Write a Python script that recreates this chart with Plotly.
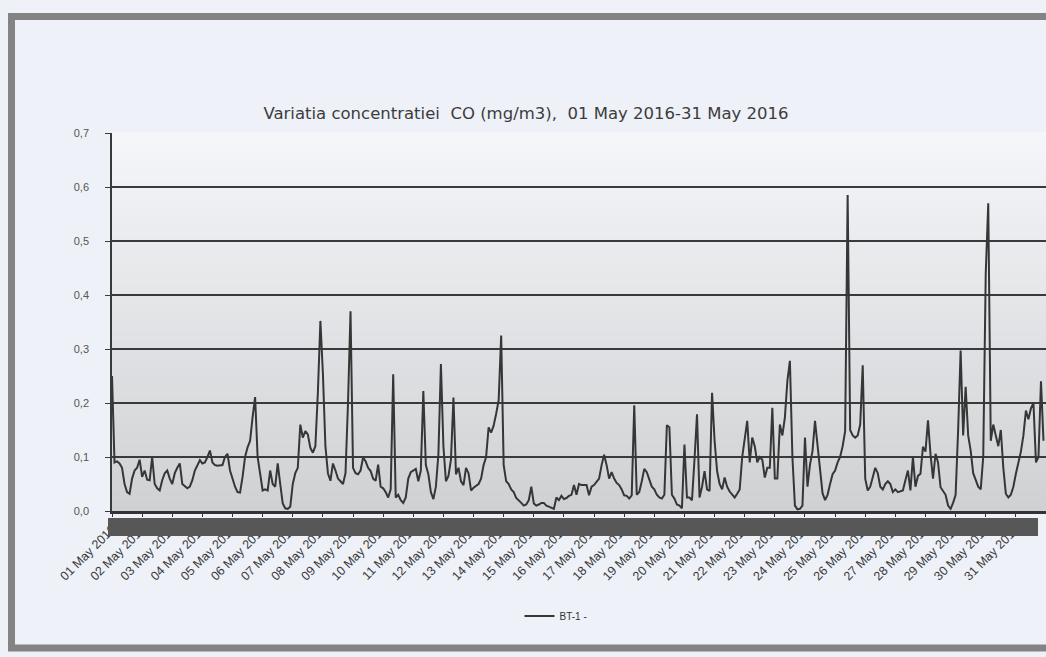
import pandas as pd
import plotly.graph_objects as go

# CO concentration (mg/m3), BT-1, 2-hourly readings (00,02,...,22h) per day, May 2016
co_may01 = [0.25, 0.09, 0.092, 0.088, 0.08, 0.05, 0.035, 0.032, 0.06, 0.075, 0.08, 0.095]
co_may02 = [0.063, 0.075, 0.058, 0.057, 0.1, 0.05, 0.042, 0.038, 0.057, 0.07, 0.075, 0.06]
co_may03 = [0.05, 0.07, 0.08, 0.088, 0.05, 0.045, 0.042, 0.045, 0.057, 0.075, 0.085, 0.094]
co_may04 = [0.088, 0.09, 0.1, 0.112, 0.09, 0.085, 0.084, 0.084, 0.085, 0.1, 0.106, 0.075]
co_may05 = [0.06, 0.045, 0.035, 0.034, 0.063, 0.1, 0.118, 0.13, 0.174, 0.211, 0.1, 0.07]
co_may06 = [0.038, 0.04, 0.038, 0.075, 0.05, 0.045, 0.088, 0.05, 0.014, 0.005, 0.004, 0.008]
co_may07 = [0.05, 0.07, 0.08, 0.16, 0.136, 0.148, 0.142, 0.117, 0.108, 0.12, 0.22, 0.352]
co_may08 = [0.255, 0.12, 0.07, 0.056, 0.088, 0.075, 0.06, 0.055, 0.05, 0.07, 0.2, 0.37]
co_may09 = [0.08, 0.07, 0.068, 0.075, 0.099, 0.092, 0.08, 0.074, 0.06, 0.056, 0.086, 0.045]
co_may10 = [0.042, 0.035, 0.025, 0.04, 0.253, 0.025, 0.03, 0.02, 0.015, 0.025, 0.06, 0.072]
co_may11 = [0.075, 0.078, 0.055, 0.075, 0.222, 0.085, 0.068, 0.035, 0.022, 0.045, 0.105, 0.272]
co_may12 = [0.12, 0.055, 0.065, 0.095, 0.21, 0.068, 0.08, 0.055, 0.048, 0.08, 0.07, 0.038]
co_may13 = [0.043, 0.046, 0.05, 0.06, 0.085, 0.1, 0.155, 0.145, 0.158, 0.18, 0.205, 0.325]
co_may14 = [0.085, 0.055, 0.05, 0.04, 0.035, 0.024, 0.02, 0.015, 0.01, 0.012, 0.02, 0.045]
co_may15 = [0.014, 0.01, 0.012, 0.015, 0.015, 0.01, 0.008, 0.006, 0.004, 0.025, 0.02, 0.028]
co_may16 = [0.022, 0.024, 0.028, 0.03, 0.048, 0.03, 0.05, 0.048, 0.048, 0.048, 0.029, 0.045]
co_may17 = [0.048, 0.055, 0.06, 0.085, 0.104, 0.085, 0.06, 0.072, 0.06, 0.052, 0.048, 0.04]
co_may18 = [0.029, 0.028, 0.023, 0.029, 0.196, 0.03, 0.035, 0.055, 0.078, 0.072, 0.06, 0.045]
co_may19 = [0.04, 0.03, 0.025, 0.023, 0.03, 0.159, 0.155, 0.03, 0.023, 0.012, 0.01, 0.005]
co_may20 = [0.123, 0.025, 0.025, 0.02, 0.095, 0.179, 0.025, 0.045, 0.074, 0.04, 0.037, 0.219]
co_may21 = [0.13, 0.074, 0.05, 0.04, 0.062, 0.045, 0.036, 0.03, 0.025, 0.032, 0.04, 0.1]
co_may22 = [0.13, 0.167, 0.09, 0.136, 0.12, 0.09, 0.1, 0.095, 0.062, 0.08, 0.08, 0.191]
co_may23 = [0.06, 0.06, 0.16, 0.14, 0.173, 0.241, 0.278, 0.1, 0.01, 0.003, 0.004, 0.01]
co_may24 = [0.136, 0.045, 0.086, 0.111, 0.167, 0.125, 0.08, 0.033, 0.02, 0.03, 0.05, 0.068]
co_may25 = [0.075, 0.09, 0.1, 0.12, 0.148, 0.585, 0.15, 0.14, 0.136, 0.14, 0.16, 0.27]
co_may26 = [0.06, 0.038, 0.045, 0.065, 0.08, 0.07, 0.045, 0.04, 0.05, 0.055, 0.05, 0.035]
co_may27 = [0.04, 0.035, 0.036, 0.038, 0.057, 0.075, 0.038, 0.1, 0.045, 0.065, 0.069, 0.119]
co_may28 = [0.11, 0.168, 0.105, 0.06, 0.106, 0.09, 0.044, 0.038, 0.03, 0.01, 0.004, 0.015]
co_may29 = [0.03, 0.149, 0.297, 0.14, 0.23, 0.14, 0.112, 0.07, 0.057, 0.045, 0.04, 0.1]
co_may30 = [0.44, 0.57, 0.13, 0.16, 0.14, 0.12, 0.15, 0.08, 0.032, 0.025, 0.03, 0.045]
co_may31 = [0.069, 0.09, 0.11, 0.14, 0.186, 0.17, 0.19, 0.2, 0.09, 0.1, 0.24, 0.13]

days = [co_may01, co_may02, co_may03, co_may04, co_may05, co_may06, co_may07,
        co_may08, co_may09, co_may10, co_may11, co_may12, co_may13, co_may14,
        co_may15, co_may16, co_may17, co_may18, co_may19, co_may20, co_may21,
        co_may22, co_may23, co_may24, co_may25, co_may26, co_may27, co_may28,
        co_may29, co_may30, co_may31]

day_labels = ["%02d May 2016" % d for d in range(1, 32)]
day_starts = pd.date_range("2016-05-01", periods=31, freq="D")

values = [v for day in days for v in day]
times = pd.date_range("2016-05-01 00:00", periods=len(values), freq="2h")

title_text = "Variatia concentratiei  CO (mg/m3),  01 May 2016-31 May 2016"
series_name = "BT-1 -"

fig = go.Figure()
fig.add_trace(go.Scatter(x=times, y=values, mode="lines", name=series_name,
                         line=dict(color="#363636", width=2)))

W, H = 1046, 657
L, R, T, B = 112, 0, 133, 146
pw, ph = W - L - R, H - T - B

def px(x):
    return (x - L) / pw

def py(y):
    return (H - B - y) / ph

shapes = []
# vertical gradient of plot background
N = 40
c0 = (244, 246, 249)
c1 = (208, 209, 211)
for i in range(N):
    t = (i + 0.5) / N
    c = tuple(int(round(c0[k] + (c1[k] - c0[k]) * t)) for k in range(3))
    shapes.append(dict(type="rect", xref="paper", yref="paper", x0=0, x1=1,
                       y0=1 - (i + 1) / N, y1=1 - i / N + 0.002, layer="below",
                       line=dict(width=0), fillcolor="rgb(%d,%d,%d)" % c))
# dense overlapping hourly labels band
shapes.append(dict(type="rect", xref="paper", yref="paper", x0=px(108), x1=px(1038),
                   y0=py(536), y1=py(518), layer="above", line=dict(width=0),
                   fillcolor="#575757"))
# outer frame
shapes.append(dict(type="rect", xref="paper", yref="paper", x0=px(11.5), x1=px(1060),
                   y0=py(648), y1=py(16.5), layer="above",
                   line=dict(color="#838383", width=7), fillcolor="rgba(0,0,0,0)"))

fig.update_layout(
    width=W, height=H, autosize=False,
    margin=dict(l=L, r=R, t=T, b=B),
    paper_bgcolor="#eef1f8", plot_bgcolor="#eceef2",
    separators=",.",
    font=dict(family="Liberation Sans, Arial", color="#444444"),
    title=dict(text=title_text, x=526 / W, xanchor="center", xref="container",
               y=1 - 113 / H, yanchor="middle", yref="container",
               font=dict(family="DejaVu Sans", size=16.5, color="#3c3c3c")),
    showlegend=True,
    legend=dict(orientation="h", x=px(556), xanchor="center", y=py(616), yanchor="middle",
                bgcolor="rgba(0,0,0,0)", font=dict(size=10, color="#333333"),
                itemwidth=30),
    shapes=shapes,
)

fig.update_yaxes(range=[0, 0.7], tickvals=[0, 0.1, 0.2, 0.3, 0.4, 0.5, 0.6, 0.7],
                 tickformat=".1f", showgrid=True, gridcolor="#3a3a3a", gridwidth=1.5,
                 showline=True, linecolor="#3a3a3a", linewidth=1.5,
                 ticks="outside", ticklen=5, tickcolor="#3a3a3a",
                 ticklabelstandoff=14, zeroline=False,
                 tickfont=dict(size=11, color="#555555"))
fig.update_xaxes(type="date", range=[day_starts[0], pd.Timestamp("2016-06-01")],
                 tickvals=list(day_starts), ticktext=day_labels, tickangle=-45,
                 showgrid=False, showline=True, linecolor="#333333", linewidth=3,
                 ticks="outside", ticklen=3, tickcolor="#333333", zeroline=False,
                 tickfont=dict(size=12.5, color="#3a3a3a"))

fig.write_html("out.html", config={"displayModeBar": False},
               post_script="document.body.style.margin='0';")
